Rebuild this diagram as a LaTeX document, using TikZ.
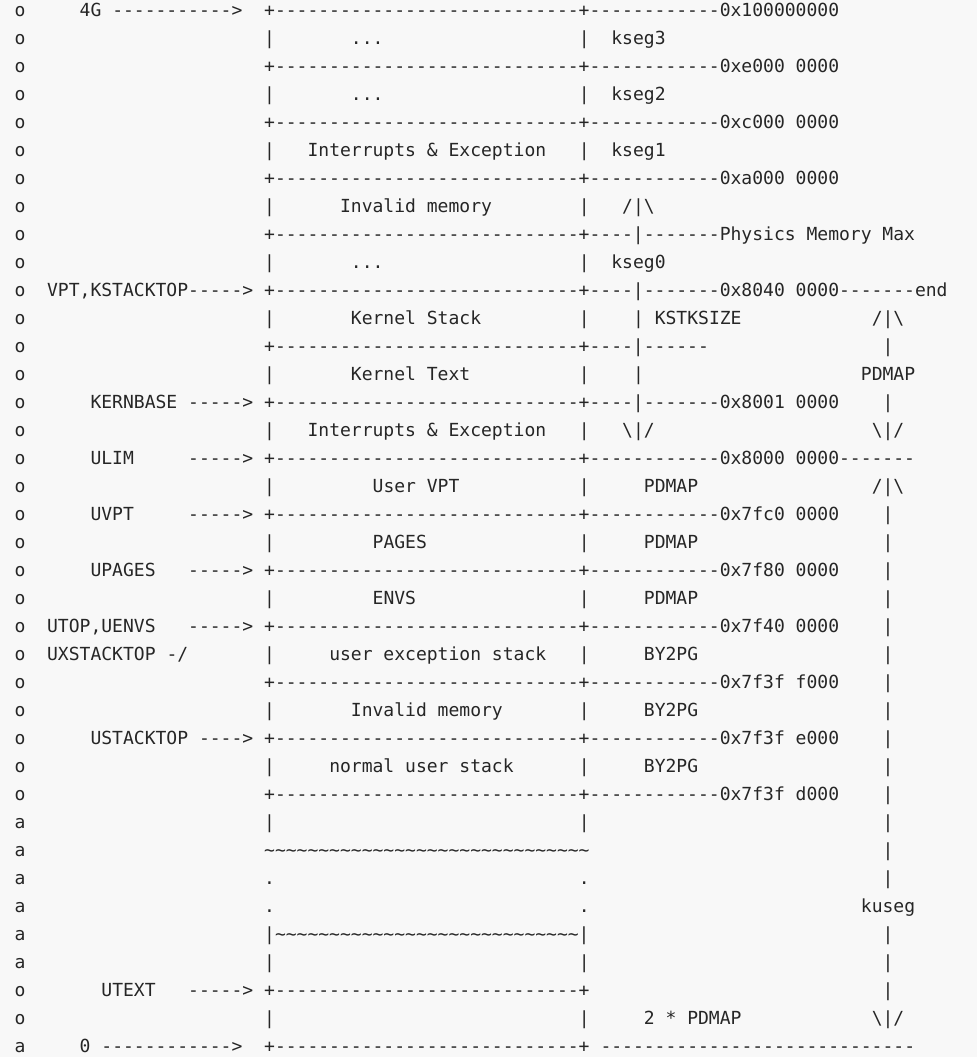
\documentclass[tikz,border=0pt]{standalone}
\usepackage{fontspec}
\setmonofont{DejaVu Sans Mono}
\definecolor{ink}{HTML}{262626}
\definecolor{paper}{HTML}{F8F8F8}
\tikzset{
  txt/.style={anchor=base west, inner sep=0pt, outer sep=0pt, text=ink,
    font=\ttfamily\fontsize{18.02}{20}\selectfont}
}
% one text run at a given line and column of the layout
\newcommand\cell[3]{\node[txt] (t#1-#2) at ({14.6+10.85*#2},{16.3+28*#1}) {#3};}
\newcommand\dashes[1]{\foreach\k in {1,...,#1}{-}}
\newcommand\tildes[1]{\foreach\k in {1,...,#1}{\textasciitilde}}
\newcommand\bs{\textbackslash}
\begin{document}
\begin{tikzpicture}[x=1pt,y=-1pt]
  \fill[paper] (0,0) rectangle (977,1057);
  \useasboundingbox (0,0) rectangle (977,1057);
  % left margin marks
  \foreach \r in {0,...,28,35,36} {\cell{\r}{0}{o}}
  \foreach \r in {29,...,34,37} {\cell{\r}{0}{a}}
  % box sides
  \foreach \r in {1,3,...,27,29,34,36} {\cell{\r}{23}{|}\cell{\r}{52}{|}}
  % boundaries with addresses
  \foreach \r/\addr in {0/0x100000000, 2/0xe000 0000, 4/0xc000 0000, 6/0xa000 0000,
      16/0x8000 0000\dashes{7}, 18/0x7fc0 0000, 20/0x7f80 0000, 22/0x7f40 0000,
      24/0x7f3f f000, 26/0x7f3f e000, 28/0x7f3f d000}
    {\cell{\r}{23}{+\dashes{28}+\dashes{12}\addr}}
  \cell{8}{23}{+\dashes{28}+\dashes{4}|\dashes{7}Physics Memory Max}
  \cell{10}{23}{+\dashes{28}+\dashes{4}|\dashes{7}0x8040 0000\dashes{7}end}
  \cell{12}{23}{+\dashes{28}+\dashes{4}|\dashes{6}}
  \cell{14}{23}{+\dashes{28}+\dashes{4}|\dashes{7}0x8001 0000}
  \cell{35}{23}{+\dashes{28}+}
  \cell{37}{23}{+\dashes{28}+}
  % symbolic names
  \cell{0}{6}{4G}
  \cell{0}{9}{\dashes{11}>}
  \cell{10}{3}{VPT,KSTACKTOP\dashes{5}>}
  \cell{14}{7}{KERNBASE}
  \cell{16}{7}{ULIM}
  \cell{18}{7}{UVPT}
  \cell{20}{7}{UPAGES}
  \cell{22}{3}{UTOP,UENVS}
  \foreach \r in {14,16,18,20,22,35} {\cell{\r}{16}{\dashes{5}>}}
  \cell{23}{3}{UXSTACKTOP}
  \cell{23}{14}{-/}
  \cell{26}{7}{USTACKTOP}
  \cell{26}{17}{\dashes{4}>}
  \cell{35}{8}{UTEXT}
  \cell{37}{6}{0}
  \cell{37}{8}{\dashes{12}>}
  % contents
  \cell{1}{31}{...}
  \cell{3}{31}{...}
  \cell{5}{27}{Interrupts \& Exception}
  \cell{7}{30}{Invalid memory}
  \cell{9}{31}{...}
  \cell{11}{31}{Kernel Stack}
  \cell{13}{31}{Kernel Text}
  \cell{15}{27}{Interrupts \& Exception}
  \cell{17}{33}{User VPT}
  \cell{19}{33}{PAGES}
  \cell{21}{33}{ENVS}
  \cell{23}{29}{user exception stack}
  \cell{25}{31}{Invalid memory}
  \cell{27}{29}{normal user stack}
  \cell{30}{23}{\tildes{30}}
  \cell{31}{23}{.}\cell{31}{52}{.}
  \cell{32}{23}{.}\cell{32}{52}{.}
  \cell{33}{23}{|\tildes{28}|}
  % segments and sizes
  \cell{1}{55}{kseg3}
  \cell{3}{55}{kseg2}
  \cell{5}{55}{kseg1}
  \cell{7}{56}{/|\bs}
  \cell{9}{55}{kseg0}
  \cell{11}{57}{|}
  \cell{11}{59}{KSTKSIZE}
  \cell{13}{57}{|}
  \cell{15}{56}{\bs|/}
  \foreach \r in {17,19,21} {\cell{\r}{58}{PDMAP}}
  \foreach \r in {23,25,27} {\cell{\r}{58}{BY2PG}}
  \cell{36}{58}{2 * PDMAP}
  \cell{37}{54}{\dashes{29}}
  % right-hand extents
  \cell{11}{79}{/|\bs}
  \cell{13}{78}{PDMAP}
  \cell{15}{79}{\bs|/}
  \cell{17}{79}{/|\bs}
  \cell{32}{78}{kuseg}
  \cell{36}{79}{\bs|/}
  \foreach \r in {12,14,18,19,...,31,33,34,35} {\cell{\r}{80}{|}}
\end{tikzpicture}
\end{document}
